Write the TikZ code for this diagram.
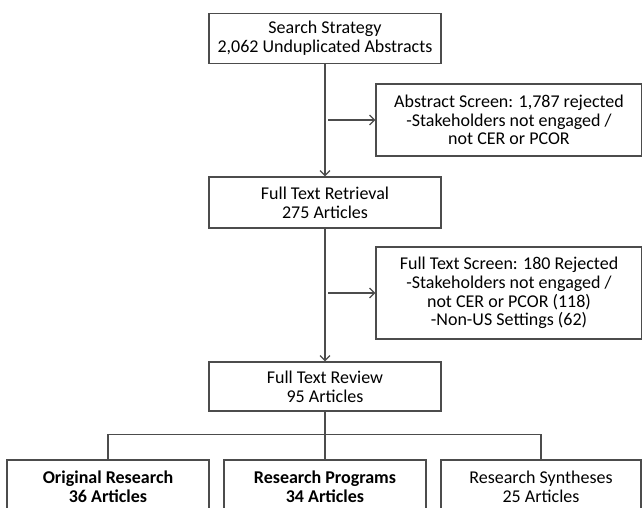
\documentclass[tikz,border=0pt]{standalone}
\usepackage{fontspec}
\setmainfont{Carlito}
\usetikzlibrary{arrows.meta}
\begin{document}
\begin{tikzpicture}[x=1pt,y=-1pt,
  box/.style={draw=black!70,line width=1.1pt,rectangle,align=center,inner sep=0pt,
    font=\fontsize{18}{18.8}\selectfont,text=black},
  conn/.style={draw=black!70,line width=1.1pt},
  arr/.style={conn,-{Straight Barb[length=5pt,width=10pt,line width=1.3pt]}}]
\useasboundingbox (0,0) rectangle (642,507);
\clip (0,0) rectangle (642,507);
\fill[white] (0,0) rectangle (642,507);
\node[box,minimum width=232pt,minimum height=50pt] (s1) at (325,38.5) {Search Strategy\\2,062 Unduplicated Abstracts};
\node[box,minimum width=266pt,minimum height=72pt] (s2) at (509,120) {Abstract Screen: 1,787 rejected\\-Stakeholders not engaged /\\not CER or PCOR};
\node[box,minimum width=232pt,minimum height=51pt] (s3) at (325,202.5) {Full Text Retrieval\\275 Articles};
\node[box,minimum width=266pt,minimum height=92pt] (s4) at (509,293) {Full Text Screen: 180 Rejected\\-Stakeholders not engaged /\\not CER or PCOR (118)\\-Non-US Settings (62)};
\node[box,minimum width=232pt,minimum height=49pt] (s5) at (325,386.5) {Full Text Review\\95 Articles};
\node[box,minimum width=202pt,minimum height=53pt,font=\fontsize{18}{19.5}\selectfont\bfseries] (b1) at (108,486.5) {Original Research\\36 Articles};
\node[box,minimum width=202pt,minimum height=53pt,font=\fontsize{18}{19.5}\selectfont\bfseries] (b2) at (325,486.5) {Research Programs\\34 Articles};
\node[box,minimum width=200pt,minimum height=53pt] (b3) at (541,486.5) {Research Syntheses\\25 Articles};
\coordinate (a1) at (328,120);
\coordinate (a2) at (328,293);
\draw[arr] (s1.south) -- (s3.north);
\draw[arr] (s3.south) -- (s5.north);
\draw[arr] (a1) -- (s2.west);
\draw[arr] (a2) -- (s4.west);
\draw[conn] (s5.south) -- (b2.north);
\draw[conn] (b1.north) -- ++(0,-25) -| (b3.north);
\end{tikzpicture}
\end{document}
